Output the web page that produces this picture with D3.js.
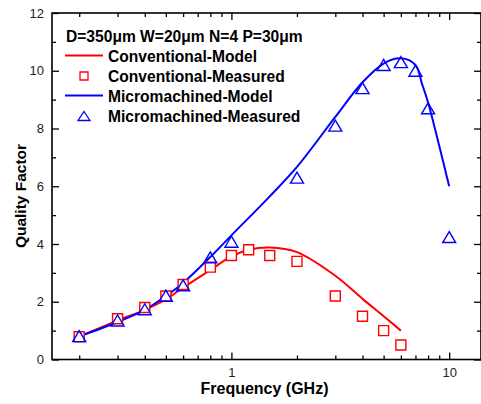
<!DOCTYPE html>
<html>
<head>
<meta charset="utf-8">
<script src="https://cdn.jsdelivr.net/npm/d3@7"></script>
<style>
  body { margin: 0; background: #fff; }
  svg { display: block; font-family: "Liberation Sans", Arial, sans-serif; }
</style>
</head>
<body>
<svg id="chart" width="481" height="404"></svg>
<script>
(function () {
    'use strict';

    // frequencies in GHz, quality factor
    var convModelFreq = [0.2, 0.3, 0.4, 0.5, 0.6, 0.8, 1.0, 1.2, 1.5, 2, 3, 4, 5, 6];
    var convModelQ = [0.8, 1.35, 1.72, 2.08, 2.49, 3.1, 3.57, 3.8, 3.88, 3.72, 2.9, 2.1, 1.5, 1.0];
    var convMeasFreq = [0.2, 0.3, 0.4, 0.5, 0.6, 0.8, 1.0, 1.2, 1.5, 2, 3, 4, 5, 6];
    var convMeasQ = [0.79, 1.41, 1.8, 2.2, 2.6, 3.2, 3.6, 3.8, 3.6, 3.4, 2.2, 1.5, 1.0, 0.5];
    var microModelFreq = [0.2, 0.3, 0.4, 0.5, 0.6, 0.8, 1.0, 1.5, 2, 3, 4, 5, 6, 7, 7.5, 8, 9, 10];
    var microModelQ = [0.8, 1.3, 1.72, 2.2, 2.65, 3.55, 4.3, 5.65, 6.67, 8.4, 9.6, 10.25, 10.43, 10.2, 9.55, 8.9, 7.4, 6.0];
    var microMeasFreq = [0.2, 0.3, 0.4, 0.5, 0.6, 0.8, 1.0, 2, 3, 4, 5, 6, 7, 8, 10];
    var microMeasQ = [0.81, 1.35, 1.74, 2.21, 2.57, 3.54, 4.08, 6.3, 8.1, 9.4, 10.2, 10.3, 10.0, 8.7, 4.24];

    var xMajor = [1, 10];
    var xMinor = [0.2, 0.3, 0.4, 0.5, 0.6, 0.7, 0.8, 0.9, 2, 3, 4, 5, 6, 7, 8, 9];
    var yMajor = [0, 2, 4, 6, 8, 10, 12];
    var yMinor = [1, 3, 5, 7, 9, 11];
    var legendTitle = "D=350\u03bcm W=20\u03bcm N=4 P=30\u03bcm";
    var seriesNames = ["Conventional-Model", "Conventional-Measured", "Micromachined-Model", "Micromachined-Measured"];

    var red = "#ff0000", blue = "#0000ff";
    var left = 52, right = 481, top = 13, bottom = 359.5;

    var svg = d3.select("#chart");

    var x = d3.scaleLog().domain([0.15, 14]).range([left, right]);
    var y = d3.scaleLinear().domain([0, 12]).range([bottom, top]);

    function zip(a, b) { return a.map(function (d, i) { return [d, b[i]]; }); }

    // axes: ticks point inward on all four sides
    function drawAxis(axis, tx, ty) {
        var g = svg.append("g").attr("transform", "translate(" + tx + "," + ty + ")").call(axis);
        g.select(".domain").remove();
        g.selectAll(".tick line").style("stroke", "#000").style("stroke-width", "1.3px");
        g.selectAll(".tick text").style("font-size", "13px").style("fill", "#222");
        return g;
    }

    drawAxis(d3.axisBottom(x).tickValues(xMajor).tickFormat(d3.format("d")).tickSizeInner(-7).tickSizeOuter(0).tickPadding(8), 0, bottom);
    drawAxis(d3.axisBottom(x).tickValues(xMinor).tickFormat("").tickSizeInner(-4).tickSizeOuter(0), 0, bottom);
    drawAxis(d3.axisTop(x).tickValues(xMajor).tickFormat("").tickSizeInner(-7).tickSizeOuter(0), 0, top);
    drawAxis(d3.axisTop(x).tickValues(xMinor).tickFormat("").tickSizeInner(-4).tickSizeOuter(0), 0, top);
    drawAxis(d3.axisLeft(y).tickValues(yMajor).tickFormat(d3.format("d")).tickSizeInner(-7).tickSizeOuter(0).tickPadding(8), left, 0);
    drawAxis(d3.axisLeft(y).tickValues(yMinor).tickFormat("").tickSizeInner(-4).tickSizeOuter(0), left, 0);
    drawAxis(d3.axisRight(y).tickValues(yMajor).tickFormat("").tickSizeInner(-7).tickSizeOuter(0), right, 0);
    drawAxis(d3.axisRight(y).tickValues(yMinor).tickFormat("").tickSizeInner(-4).tickSizeOuter(0), right, 0);

    svg.append("rect")
        .attr("x", left)
        .attr("y", top)
        .attr("width", right - left)
        .attr("height", bottom - top)
        .style("fill", "none")
        .style("stroke", "#000")
        .style("stroke-width", "1.6px");

    svg.append("text")
        .attr("x", (left + right) / 2 - 2)
        .attr("y", 394)
        .attr("text-anchor", "middle")
        .style("font-size", "16px")
        .style("font-weight", "bold")
        .text("Frequency (GHz)");
    svg.append("text")
        .attr("transform", "translate(26,196) rotate(-90)")
        .attr("text-anchor", "middle")
        .style("font-size", "15.5px")
        .style("font-weight", "bold")
        .text("Quality Factor");

    var line = d3.line()
        .x(function (d) { return x(d[0]); })
        .y(function (d) { return y(d[1]); })
        .curve(d3.curveCatmullRom.alpha(0.5));

    svg.append("path")
        .datum(zip(convModelFreq, convModelQ))
        .attr("d", line)
        .style("fill", "none")
        .style("stroke", red)
        .style("stroke-width", "2px");
    svg.append("path")
        .datum(zip(microModelFreq, microModelQ))
        .attr("d", line)
        .style("fill", "none")
        .style("stroke", blue)
        .style("stroke-width", "2px");

    function square(s) { return "M" + (-s / 2) + "," + (-s / 2) + "h" + s + "v" + s + "h" + (-s) + "Z"; }
    function triangle(w, h) { return "M0," + (-h / 2) + "L" + (w / 2) + "," + (h / 2) + "L" + (-w / 2) + "," + (h / 2) + "Z"; }

    svg.selectAll(".sq")
        .data(zip(convMeasFreq, convMeasQ))
        .enter()
        .append("path")
        .attr("class", "sq")
        .attr("transform", function (d) { return "translate(" + x(d[0]) + "," + y(d[1]) + ")"; })
        .attr("d", square(10))
        .style("fill", "#fff")
        .style("stroke", red)
        .style("stroke-width", "1.4px");
    svg.selectAll(".tri")
        .data(zip(microMeasFreq, microMeasQ))
        .enter()
        .append("path")
        .attr("class", "tri")
        .attr("transform", function (d) { return "translate(" + x(d[0]) + "," + y(d[1]) + ")"; })
        .attr("d", triangle(13, 11))
        .style("fill", "none")
        .style("stroke", blue)
        .style("stroke-width", "1.4px");

    // legend
    var lg = svg.append("g").style("font-size", "15.6px").style("font-weight", "bold");
    lg.append("text").attr("x", 66).attr("y", 41.5).text(legendTitle);
    seriesNames.forEach(function (name, i) {
        var by = 61.5 + i * 20;
        lg.append("text").attr("x", 108).attr("y", by).text(name);
        if (i === 0 || i === 2) {
            lg.append("line")
                .attr("x1", 65).attr("x2", 103)
                .attr("y1", by - 6).attr("y2", by - 6)
                .style("stroke", i === 0 ? red : blue)
                .style("stroke-width", "2px");
        } else if (i === 1) {
            lg.append("path")
                .attr("transform", "translate(84," + (by - 5.5) + ")")
                .attr("d", square(8))
                .style("fill", "none")
                .style("stroke", red)
                .style("stroke-width", "1.3px");
        } else {
            lg.append("path")
                .attr("transform", "translate(84," + (by - 5.5) + ")")
                .attr("d", triangle(12, 9))
                .style("fill", "none")
                .style("stroke", blue)
                .style("stroke-width", "1.3px");
        }
    });
}());
</script>
</body>
</html>
